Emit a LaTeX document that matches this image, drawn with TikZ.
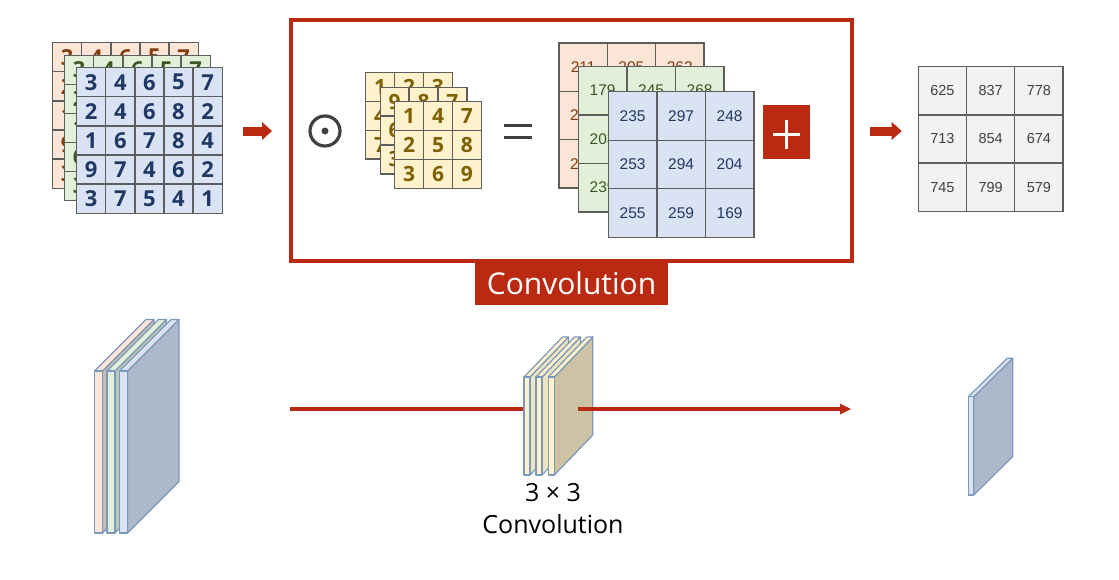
\documentclass[tikz,border=0pt]{standalone}
\usepackage{fontspec}
\setmainfont{Open Sans}
\newfontfamily\arialfont{Liberation Sans}
\usetikzlibrary{matrix,arrows.meta}

\definecolor{convred}{RGB}{186,41,18}
\definecolor{peachF}{HTML}{FBE5D6}
\definecolor{peachT}{HTML}{843C0C}
\definecolor{peachS}{HTML}{CDBBAE}
\definecolor{mintF}{HTML}{E2F0D9}
\definecolor{mintT}{HTML}{385723}
\definecolor{mintS}{HTML}{BCC8B6}
\definecolor{skyF}{HTML}{DAE3F3}
\definecolor{skyT}{HTML}{203864}
\definecolor{skyS}{HTML}{ADB9CA}
\definecolor{creamF}{HTML}{FFF2CC}
\definecolor{creamT}{HTML}{7F6000}
\definecolor{creamS}{HTML}{EFE4C0}
\definecolor{tanS}{HTML}{CCC3A5}
\definecolor{greyF}{HTML}{F2F2F2}
\definecolor{greyT}{HTML}{404040}
\definecolor{gridline}{HTML}{5E5E5E}
\definecolor{slabline}{HTML}{7B99BC}

\newcommand\indigits{\fontsize{22}{26}\selectfont\bfseries}
\newcommand\kerndigits{\fontsize{21}{25}\selectfont\bfseries}
\newcommand\sumdigits{\arialfont\fontsize{15.5}{18}\selectfont}
\newcommand\outdigits{\arialfont\fontsize{14.5}{17}\selectfont}

\begin{document}
\begin{tikzpicture}[x=1pt, y=-1pt,
    cellgrid/.style={matrix of nodes, inner sep=0pt, outer sep=0pt,
      column sep=-1.3pt, row sep=-1.3pt, anchor=north west,
      nodes={draw=gridline, line width=1.3pt, inner sep=0pt, anchor=center, minimum size=#1}},
    fatarrow/.style={convred, line width=9pt, -{Triangle[length=10pt, width=18pt, line width=0pt]}},
    redline/.style={convred, line width=3.5pt},
    slab/.style={draw=slabline, line width=1.2pt, line join=round}]
    \useasboundingbox (0,0) rectangle (1119,579);

    % input channels
    \matrix (inP) [cellgrid=29.1pt, nodes={fill=peachF, text=peachT, font=\indigits}] at (52,42) {
      3 & 4 & 6 & 5 & 7\\ 2 & 4 & 6 & 8 & 2\\ 1 & 6 & 7 & 8 & 4\\ 9 & 7 & 4 & 6 & 2\\ 3 & 7 & 5 & 4 & 1\\};
    \matrix (inG) [cellgrid=29.1pt, nodes={fill=mintF, text=mintT, font=\indigits}] at (64,54.5) {
      3 & 4 & 6 & 5 & 7\\ 2 & 4 & 6 & 8 & 2\\ 1 & 6 & 7 & 8 & 4\\ 6 & 7 & 4 & 6 & 2\\ 3 & 7 & 5 & 4 & 1\\};
    \matrix (inB) [cellgrid=29.1pt, nodes={fill=skyF, text=skyT, font=\indigits}] at (76,67) {
      3 & 4 & 6 & 5 & 7\\ 2 & 4 & 6 & 8 & 2\\ 1 & 6 & 7 & 8 & 4\\ 9 & 7 & 4 & 6 & 2\\ 3 & 7 & 5 & 4 & 1\\};

    % convolution frame
    \node[draw=convred, line width=4pt, outer sep=0pt, inner sep=0pt,
      minimum width=561pt, minimum height=241pt] (frame) at (571.5,140.5) {};
    \node[fill=convred, text=white, inner sep=0pt, minimum width=193pt, minimum height=43pt,
      font=\fontsize{30}{36}\selectfont] (convlab) at (571.5,283.5) {Convolution};

    % odot and equals
    \node[circle, draw=greyT, line width=3.2pt, minimum size=30pt, inner sep=0pt] (odot) at (325,131) {};
    \fill[greyT] (odot.center) circle (3.5);
    \draw[greyT, line width=3.5pt] (504,125.5) -- (532,125.5) (504,137.5) -- (532,137.5);

    % kernels
    \matrix (kerA) [cellgrid=28.9pt, nodes={fill=creamF, text=creamT, font=\kerndigits}] at (365,71.7) {
      1 & 2 & 3\\ 4 & 5 & 6\\ 7 & 8 & 9\\};
    \matrix (kerB) [cellgrid=28.9pt, nodes={fill=creamF, text=creamT, font=\kerndigits}] at (379.5,86.5) {
      9 & 8 & 7\\ 6 & 5 & 4\\ 3 & 2 & 1\\};
    \matrix (kerC) [cellgrid=28.9pt, nodes={fill=creamF, text=creamT, font=\kerndigits}] at (394,101) {
      1 & 4 & 7\\ 2 & 5 & 8\\ 3 & 6 & 9\\};

    % per-channel sums
    \matrix (sumP) [cellgrid=48.3pt, nodes={fill=peachF, text=peachT, font=\sumdigits}] at (558.3,42.3) {
      211 & 205 & 262\\ 218 & 240 & 231\\ 226 & 250 & 207\\};
    \matrix (sumG) [cellgrid=48.5pt, nodes={fill=mintF, text=mintT, font=\sumdigits}] at (577.7,65.7) {
      179 & 245 & 268\\ 203 & 212 & 226\\ 239 & 230 & 198\\};
    \matrix (sumB) [cellgrid=48.5pt, nodes={fill=skyF, text=skyT, font=\sumdigits}] at (607.7,91) {
      235 & 297 & 248\\ 253 & 294 & 204\\ 255 & 259 & 169\\};

    % plus
    \node[fill=convred, inner sep=0pt, minimum width=46.7pt, minimum height=54.3pt] (plusbox) at (786.5,132.2) {};
    \draw[white, line width=2.8pt] ([xshift=-13.5pt, yshift=-2pt]plusbox.center) -- ++(27,0);
    \draw[white, line width=2.8pt] ([yshift=12.5pt]plusbox.center) -- ++(0,29);

    % output
    \matrix (outG) [cellgrid=48.2pt, nodes={fill=greyF, text=greyT, font=\outdigits}] at (917.7,66) {
      625 & 837 & 778\\ 713 & 854 & 674\\ 745 & 799 & 579\\};

    \draw[fatarrow, shorten <=20pt, shorten >=19pt] (inB.east |- odot) -- (frame.west |- odot);
    \draw[fatarrow, shorten <=18pt, shorten >=16pt] (frame.east |- odot) -- (outG.west |- odot);

    % input volume
    \foreach \x/\fc/\sc in {94.5/peachF/peachS, 107/mintF/mintS, 119.5/skyF/skyS}{
      \filldraw[slab, fill=\sc] (\x+8,371) -- ++(51.5,-51.5) -- ++(0,162) -- ++(-51.5,51.5) -- cycle;
      \filldraw[slab, fill=\fc] (\x,371) -- ++(51.5,-51.5) -- ++(8,0) -- ++(-51.5,51.5) -- cycle;
      \filldraw[slab, fill=\fc] (\x,371) rectangle ++(8,162);
    }

    % line through the filters
    \coordinate (lineL) at (290,409);
    \coordinate (midfront) at (524,409);
    \coordinate (lineM) at (578,409);
    \coordinate (lineR) at (851,409);
    \draw[redline] (lineL) -- (midfront);

    % filters
    \foreach \x/\sc in {524/creamS, 536/creamS, 548.3/tanS}{
      \filldraw[slab, fill=\sc] (\x+6,377) -- ++(38.5,-40) -- ++(0,98) -- ++(-38.5,40) -- cycle;
      \filldraw[slab, fill=creamF] (\x,377) -- ++(38.5,-40) -- ++(6,0) -- ++(-38.5,40) -- cycle;
      \filldraw[slab, fill=creamF] (\x,377) rectangle ++(6,98);
    }
    \draw[redline, -{Triangle[length=11pt, width=11pt, line width=0pt]}] (lineM) -- (lineR);
    \node[align=center, font=\fontsize{25}{32}\selectfont] (filtlab) at (553,509) {3 × 3\\Convolution};

    % output map
    \filldraw[slab, fill=skyS] (973.8,396.7) -- ++(39,-38.5) -- ++(0,98.3) -- ++(-39,38.5) -- cycle;
    \filldraw[slab, fill=skyF] (968.3,396.7) -- ++(39,-38.5) -- ++(5.5,0) -- ++(-39,38.5) -- cycle;
    \filldraw[slab, fill=skyF] (968.3,396.7) rectangle ++(5.5,98.3);
\end{tikzpicture}
\end{document}
